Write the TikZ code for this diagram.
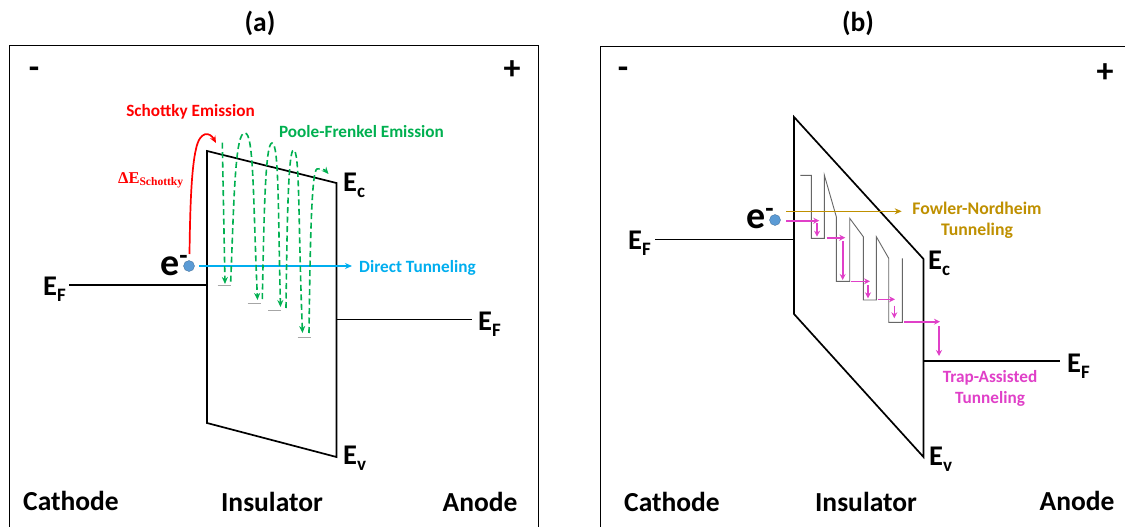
\documentclass[tikz,border=0pt]{standalone}
\usepackage{fontspec}
\setmainfont{Carlito}
\newfontfamily\serifb{Liberation Serif}
\usetikzlibrary{arrows.meta}
\definecolor{gr}{HTML}{00B050}
\definecolor{pk}{HTML}{E040C8}
\definecolor{gd}{HTML}{BF9000}
\definecolor{bl}{HTML}{00AEEF}
\definecolor{dot}{HTML}{5B9BD5}
\newcommand\levelE[1]{E\raisebox{-6pt}{\fontsize{19}{19}\selectfont #1}}
\newcommand\elec{e\raisebox{11pt}{\fontsize{27}{27}\selectfont -}}
\tikzset{
 frame/.style={draw=black,line width=0.9pt},
 band/.style={draw=black,line width=1.7pt},
 lbl/.style={font=\bfseries\fontsize{27.5}{28}\selectfont,inner sep=0pt,anchor=center},
 sgn/.style={font=\bfseries\fontsize{34}{34}\selectfont,inner sep=0pt,anchor=center},
 ef/.style={font=\bfseries\fontsize{28.5}{28}\selectfont,inner sep=0pt},
 elabel/.style={font=\bfseries\fontsize{38}{38}\selectfont,inner sep=0pt,anchor=base west},
 captext/.style={font=\bfseries\fontsize{17.2}{18}\selectfont,inner sep=0pt},
 green/.style={draw=gr,line width=1.6pt,dash pattern=on 6pt off 3.5pt,-{Stealth[length=7pt,width=6pt]}},
 pink/.style={draw=pk,line width=1.6pt,-{Stealth[length=6pt,width=6pt]}},
 trap/.style={draw=gray!70,line width=1.1pt},
 edot/.style={circle,fill=dot,draw=dot!70!black,line width=0.3pt,minimum size=11pt,inner sep=0pt}
}
\begin{document}
\begin{tikzpicture}[x=1pt,y=-1pt]
\useasboundingbox (0,0) rectangle (1125,527);
\fill[white] (0,0) rectangle (1125,527);
% frames
\draw[frame] (9,527) -- (9,45) -- (538,45) -- (538,527);
\draw[frame] (600,527) -- (600,46) -- (1125,46);
% titles
\node[lbl] (ta) at (260,23) {(a)};
\node[lbl] (tb) at (858,23) {(b)};
% ---- panel a
\coordinate (a1) at (207,151); \coordinate (a2) at (336.5,183); \coordinate (a3) at (336.5,457); \coordinate (a4) at (207,423);
\draw[band,line join=miter] (a1) -- (a2) -- (a3) -- (a4) -- cycle;
\coordinate (ae1) at (69,285); \coordinate (ae2) at (207,285); \coordinate (ae3) at (336.5,319.5); \coordinate (ae4) at (472,319.5);
\draw[band] (ae1) -- (ae2); \draw[band] (ae3) -- (ae4);
\node[sgn] (am) at (34,73) {-};
\node[sgn] (ap) at (512,70) {+};
\node[lbl] (ca) at (71,501) {Cathode};
\node[lbl] (ia) at (272,502) {Insulator};
\node[lbl] (aa) at (480,502) {Anode};
\node[ef,anchor=base west] (efa) at (43,295) {\levelE{F}};
\node[ef,anchor=base west] (efb) at (478,330) {\levelE{F}};
\node[ef,anchor=base west] (eca) at (343,191) {\levelE{c}};
\node[ef,anchor=base west] (eva) at (343,464) {\levelE{v}};
\node[elabel] (ea) at (160,275) {\elec};
\node[edot] (da) at (189,266) {};
% trap levels a
\foreach \x/\y in {224/285.7,254/303.3,274.5/310.3,304/337.3}{
  \draw[trap] (\x,\y) ++(-6.5,0) -- ++(13,0);
}
% direct
\coordinate (dt) at (352,266);
\draw[draw=bl,line width=1.6pt,-{Stealth[length=7pt,width=6pt]}] (199,266) -- (dt);
\node[captext,text=bl,anchor=west] (dl) at (359,268) {Direct Tunneling};
% schottky
\draw[draw=red,line width=1.7pt,-{Stealth[length=7pt,width=6pt]}] (189.5,254) .. controls (190,215) and (191,170) .. (196,149) .. controls (200,130) and (210,132) .. (216,143);
\node[captext,text=red] (sl) at (190.5,112) {Schottky Emission};
\node[font=\serifb\bfseries\fontsize{16.5}{17}\selectfont,text=red,anchor=base west,inner sep=0pt] (dE) at (118,183) {ΔE\textsubscript{Schottky}};
\node[captext,text=gr] (pl) at (361.5,131.5) {Poole-Frenkel Emission};
% green
\draw[green] (222.3,142.7) -- (225,284);
\draw[green] (230.7,281.7) .. controls (234,200) and (235,131) .. (245,133) .. controls (254,133) and (253,200) .. (257.5,300);
\draw[green] (262.3,299) .. controls (264,220) and (265,143) .. (272,143) .. controls (279,143) and (278,210) .. (280.5,307);
\draw[green] (286,308) .. controls (287,230) and (288,150) .. (293.5,150) .. controls (300,150) and (298,220) .. (302.5,333);
\draw[green] (309,333) .. controls (310,260) and (311,170) .. (317,169) .. controls (321,168) and (325,170) .. (328.5,174);
% ---- panel b
\coordinate (b1) at (794,117); \coordinate (b2) at (923.5,259); \coordinate (b3) at (923.5,457); \coordinate (b4) at (794,314);
\draw[band,line join=miter] (b1) -- (b2) -- (b3) -- (b4) -- cycle;
\coordinate (be1) at (655,239.5); \coordinate (be2) at (794,239.5); \coordinate (be3) at (923.5,360.7); \coordinate (be4) at (1060,360.7);
\draw[band] (be1) -- (be2); \draw[band] (be3) -- (be4);
\node[sgn] (bm) at (623,73) {-};
\node[sgn] (bp) at (1105,73) {+};
\node[lbl] (cb) at (672,502) {Cathode};
\node[lbl] (ib) at (866,502) {Insulator};
\node[lbl] (ab) at (1077,501) {Anode};
\node[ef,anchor=base west] (efc) at (628,249) {\levelE{F}};
\node[ef,anchor=base west] (efd) at (1067,372) {\levelE{F}};
\node[ef,anchor=base west] (ecb) at (928,269) {\levelE{c}};
\node[ef,anchor=base west] (evb) at (929,465) {\levelE{v}};
\node[elabel] (eb) at (746,228) {\elec};
\node[edot] (db) at (775,220) {};
% staircase
\draw[draw=gray!80!black,line width=0.9pt,line join=miter]
 (800.3,175.3) -- (811.3,175.3) -- (811.3,238.3) -- (824.3,238.3) -- (824.3,175) -- (836.3,216.7) -- (836.3,281.3) -- (849.7,281.3) -- (849.7,218.3) -- (863.3,236.7) -- (863.3,300) -- (876.3,300) -- (876.3,236.7) -- (888.7,258.3) -- (888.7,322.3) -- (902.3,322.3) -- (902.3,258.3);
% gold
\coordinate (fn) at (901.7,211.3);
\draw[draw=gd,line width=1.6pt,-{Stealth[length=7pt,width=6pt]}] (786,211.3) -- (fn);
\node[captext,text=gd,align=center] (fl) at (977,220) {\fontsize{17.7}{18}\selectfont Fowler-Nordheim\\[3pt]\fontsize{17.7}{18}\selectfont Tunneling};
% pink
\draw[pink] (786,220.7) -- (819.3,220.7);
\draw[pink] (817,223.3) -- (817,236.7);
\draw[pink] (826.7,237.7) -- (845.3,237.7);
\draw[pink] (842.7,241) -- (842.7,280);
\draw[pink] (851.3,281.3) -- (870,281.3);
\draw[pink] (868,285) -- (868,298.3);
\draw[pink] (878.3,299.3) -- (895,299.3);
\draw[pink] (894.3,305.7) -- (894.3,318.3);
\draw[pink] (904,321.7) -- (940,321.7);
\draw[pink] (939,326) -- (939,356);
\node[captext,text=pk,align=center] (tl) at (990,388) {Trap-Assisted\\[3pt]Tunneling};
\end{tikzpicture}
\end{document}
